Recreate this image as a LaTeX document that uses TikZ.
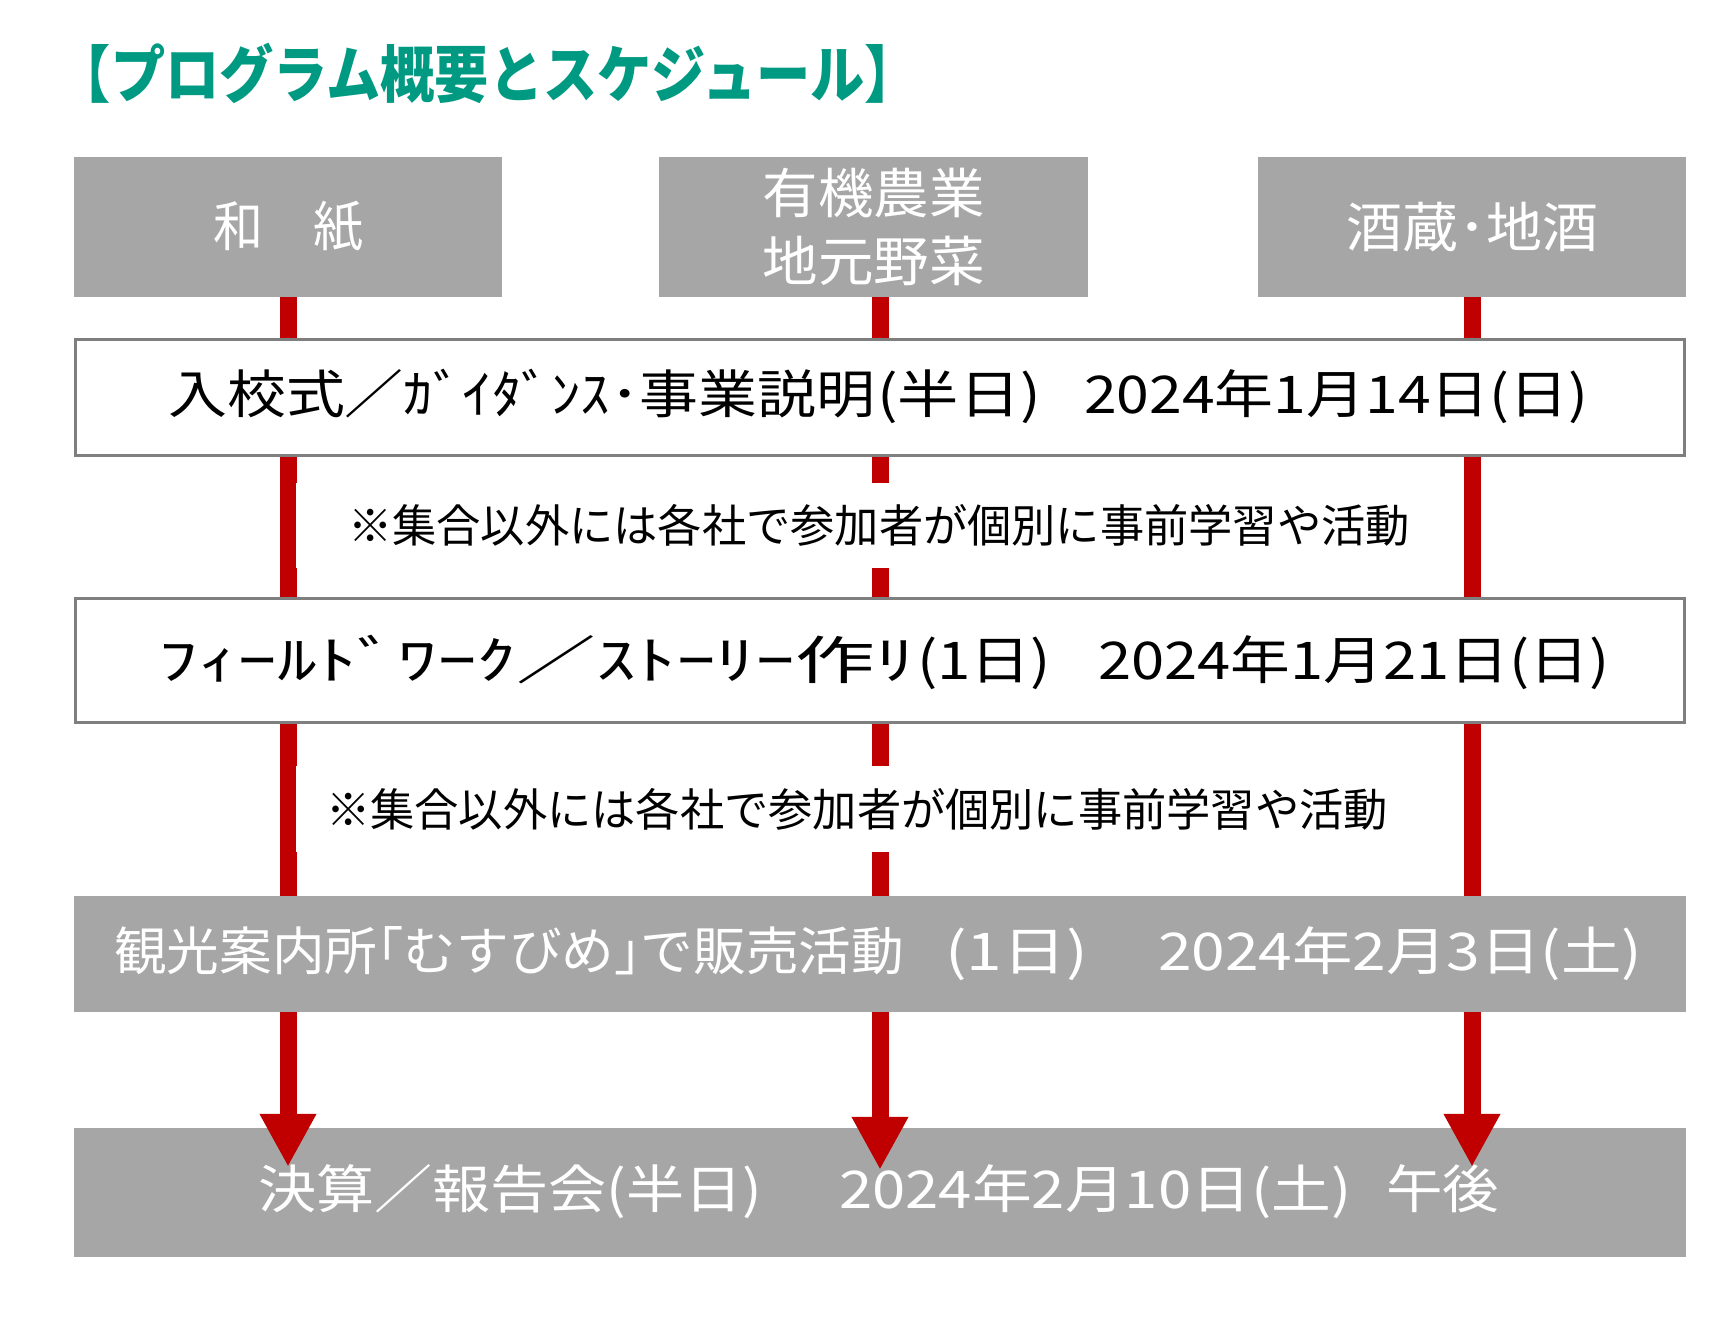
\documentclass[tikz,border=0pt]{standalone}
\usepackage{fontspec}
\usetikzlibrary{arrows.meta,calc}
\newfontfamily\jp{Noto Sans CJK JP}
\definecolor{boxgray}{HTML}{A6A6A6}
\definecolor{edgegray}{HTML}{7F7F7F}
\definecolor{linered}{HTML}{C00000}
\definecolor{titlegreen}{HTML}{009A82}
\newcommand\fw[2]{\resizebox{#1}{\height}{#2}}
\pgfdeclarelayer{bg}
\pgfsetlayers{bg,main}
\begin{document}
\begin{tikzpicture}[x=1pt,y=-1pt,
  graybox/.style={fill=boxgray, draw=none, inner sep=0pt, text=white},
  whitebox/.style={fill=white, draw=edgegray, line width=3pt, inner sep=0pt, text=black},
  notebox/.style={fill=white, draw=none, inner sep=0pt, text=black},
  redline/.style={draw=linered, line width=17pt},
  redarrow/.style={redline, -{Triangle[width=53pt,length=53pt]}},
  bigtext/.style={inner sep=0pt, anchor=west, font=\jp\fontsize{52}{60}\selectfont},
  toptext/.style={font=\jp\fontsize{54}{68}\selectfont, align=center},
  notetext/.style={font=\jp\fontsize{45}{50}\selectfont}
]
\useasboundingbox (0,0) rectangle (1733,1317);
\begin{pgfonlayer}{bg}
\fill[white] (0,0) rectangle (1733,1317);
\end{pgfonlayer}

% title
\node[inner sep=0pt, text=titlegreen, font=\jp\bfseries\fontsize{62}{70}\selectfont] (title) at (488,73)
  {\fw{862pt}{【プログラム概要とスケジュール】}};

% top boxes
\node[graybox, toptext, minimum width=428, minimum height=140] (t1) at (288,227)
  {\fw{150pt}{和　紙}};
\node[graybox, toptext, minimum width=429, minimum height=140] (t2) at (873.5,227)
  {\fw{222pt}{有機農業}\\\fw{222pt}{地元野菜}};
\node[graybox, toptext, minimum width=428, minimum height=140] (t3) at (1472,227)
  {\fw{252pt}{酒蔵･地酒}};

% schedule boxes
\node[whitebox, minimum width=1609, minimum height=116] (b1) at (880,397.5) {};
\node[bigtext] (b1t) at (168,396)
  {\fw{707pt}{入校式／ｶﾞｲﾀﾞﾝｽ･事業説明}\hspace{2pt}\fw{164pt}{(半日)}\hspace{43pt}\fw{504pt}{2024年1月14日(日)}};

\node[notebox, notetext, minimum width=1166, minimum height=85] (n1) at (879,525.5)
  {\fw{1062pt}{※集合以外には各社で参加者が個別に事前学習や活動}};

\node[whitebox, minimum width=1609, minimum height=124] (b2) at (880,660.5) {};
\node[bigtext] (b2t) at (158,662)
  {\fw{757pt}{ﾌｨｰﾙﾄﾞﾜｰｸ／ｽﾄｰﾘｰ作ﾘ}\hspace{2pt}\fw{134pt}{(1日)}\hspace{47pt}\fw{511pt}{2024年1月21日(日)}};

\node[notebox, notetext, minimum width=1122, minimum height=86] (n2) at (857,809)
  {\fw{1062pt}{※集合以外には各社で参加者が個別に事前学習や活動}};

\node[graybox, minimum width=1612, minimum height=116] (b3) at (880,954) {};
\node[bigtext, text=white] (b3t) at (114,954)
  {\fw{790pt}{観光案内所｢むすびめ｣で販売活動}\hspace{41pt}\fw{143pt}{(1日)}\hspace{70pt}\fw{484pt}{2024年2月3日(土)}};

\node[graybox, minimum width=1612, minimum height=129] (b4) at (880,1192.5) {};

% connectors behind the boxes
\begin{pgfonlayer}{bg}
\draw[redline] (t1.south) -- (t1.south |- b3.north);
\draw[redline] (t2.south -| b4.north) -- (b4.north |- b3.north);
\draw[redline] (t3.south) -- (t3.south |- b3.north);
\end{pgfonlayer}

% arrows into the last box
\coordinate (a1) at ($(t1.south |- b4.north)+(0,39)$);
\coordinate (a2) at ($(b4.north)+(0,42)$);
\coordinate (a3) at ($(t3.south |- b4.north)+(0,39)$);
\draw[redarrow] (t1.south |- b3.south) -- (a1);
\draw[redarrow] (b4.north |- b3.south) -- (a2);
\draw[redarrow] (t3.south |- b3.south) -- (a3);

\node[bigtext, text=white] (b4t) at (258,1192)
  {\fw{504pt}{決算／報告会(半日)}\hspace{77pt}\fw{512pt}{2024年2月10日(土)}\hspace{35pt}\fw{113pt}{午後}};
\end{tikzpicture}
\end{document}
